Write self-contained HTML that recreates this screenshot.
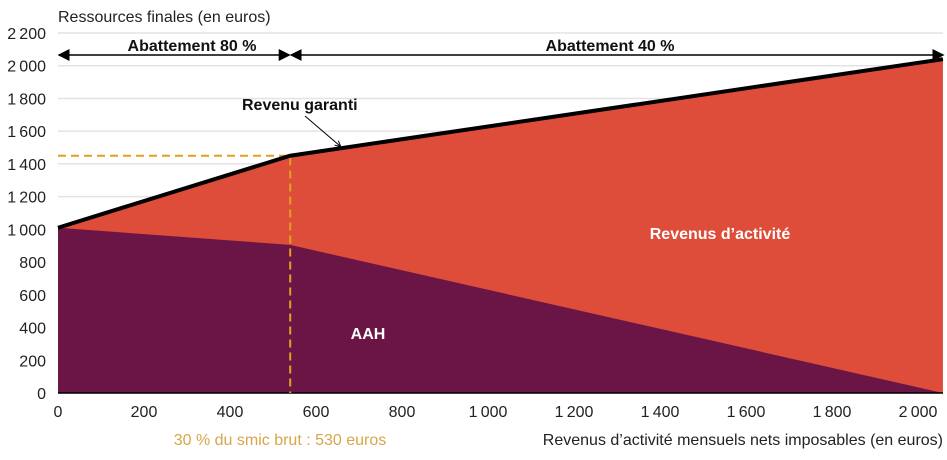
<!DOCTYPE html>
<html><head><meta charset="utf-8"><style>
body{margin:0;background:#fff;font-family:"Liberation Sans",sans-serif}
svg text{font-family:"Liberation Sans",sans-serif}
</style></head><body>
<svg id="c" width="947" height="455" xmlns="http://www.w3.org/2000/svg">
<defs><marker id="ah" markerWidth="8" markerHeight="8" refX="7" refY="4" orient="auto-start-reverse"><path d="M0,0 L8,4 L0,8 z" fill="#000"/></marker>
<marker id="ah2" markerWidth="6" markerHeight="6" refX="5" refY="3" orient="auto"><path d="M0,0 L6,3 L0,6" fill="none" stroke="#000" stroke-width="1"/></marker></defs>
</svg>
<script>
const yTicks=[0,200,400,600,800,1000,1200,1400,1600,1800,2000,2200];
const xTicks=[0,200,400,600,800,1000,1200,1400,1600,1800,2000];
const revX=[0,540,2058];
const garanti=[1010,1450,2040];
const aahX=[0,540,2058];
const aah=[1010,905,0];
const smicX=540, smicY=1450;
const svg=document.getElementById('c'),NS='http://www.w3.org/2000/svg';
const X=v=>58+v*0.43, Y=v=>393-v*0.16364;
function el(t,a,txt){const e=document.createElementNS(NS,t);for(const k in a)e.setAttribute(k,a[k]);if(txt!==undefined)e.textContent=txt;svg.appendChild(e);return e;}
function fmt(v){return v>=1000?Math.floor(v/1000)+"\u202f"+String(v%1000).padStart(3,'0'):String(v);}
yTicks.forEach(v=>{
 const g=el('line',{x1:58,x2:943,y1:Y(v),y2:Y(v),stroke:'#e3e3e3','stroke-width':1.5});
 
 
 const t=el('text',{x:46,y:Y(v)+6,'text-anchor':'end','font-size':16,fill:'#222'},fmt(v));
 
 
});
xTicks.forEach(v=>{
 const t=el('text',{x:X(v),y:417,'text-anchor':'middle','font-size':16,fill:'#222'},fmt(v));
 
 
});
let p='M'+X(aahX[0])+','+Y(0);revX.forEach((x,i)=>p+=' L'+X(x)+','+Y(garanti[i]));p+=' L'+X(revX[revX.length-1])+','+Y(0)+'Z';
const r=el('path',{d:p,fill:'#dd4d3a'});


p='M'+X(aahX[0])+','+Y(0);aahX.forEach((x,i)=>p+=' L'+X(x)+','+Y(aah[i]));p+=' L'+X(aahX[aahX.length-1])+','+Y(0)+'Z';
const a=el('path',{d:p,fill:'#6b1547'});


const bl=el('line',{x1:58,x2:943,y1:Y(0),y2:Y(0),stroke:'#000','stroke-width':1.5});


const dl=el('polyline',{points:`${X(0)},${Y(smicY)} ${X(smicX)},${Y(smicY)} ${X(smicX)},${Y(0)}`,fill:'none',stroke:'#e0a020','stroke-width':2,'stroke-dasharray':'8,5'});


const gl=el('polyline',{points:revX.map((x,i)=>X(x)+','+Y(garanti[i])).join(' '),fill:'none',stroke:'#000','stroke-width':4});


const ar1=el('line',{x1:59,x2:X(smicX)-1,y1:55,y2:55,stroke:'#000','stroke-width':1.5,'marker-start':'url(#ah)','marker-end':'url(#ah)'});


const ar2=el('line',{x1:X(smicX)+1,x2:943,y1:55,y2:55,stroke:'#000','stroke-width':1.5,'marker-start':'url(#ah)','marker-end':'url(#ah)'});


const pt=el('line',{x1:305,y1:116,x2:340,y2:146,stroke:'#000','stroke-width':1,'marker-end':'url(#ah2)'});


[[58,22,'Ressources finales (en euros)','start',16,'#222','normal','y-axis-title'],
 [192,51,'Abattement 80 %','middle',16,'#111','bold','abattement-80-label'],
 [610,51,'Abattement 40 %','middle',16,'#111','bold','abattement-40-label'],
 [242,110,'Revenu garanti','start',16,'#111','bold','revenu-garanti-label'],
 [720,239,'Revenus d\u2019activité','middle',16,'#fff','bold','revenus-activite-label'],
 [368,339,'AAH','middle',16,'#fff','bold','aah-label'],
 [280,445,'30 % du smic brut : 530 euros','middle',16,'#d9a54a','normal','smic-label'],
 [943,445,'Revenus d\u2019activité mensuels nets imposables (en euros)','end',16,'#222','normal','x-axis-title']
].forEach(d=>{const t=el('text',{x:d[0],y:d[1],'text-anchor':d[3],'font-size':d[4],fill:d[5],'font-weight':d[6]},d[2]);
 
 });
</script>
</body></html>
